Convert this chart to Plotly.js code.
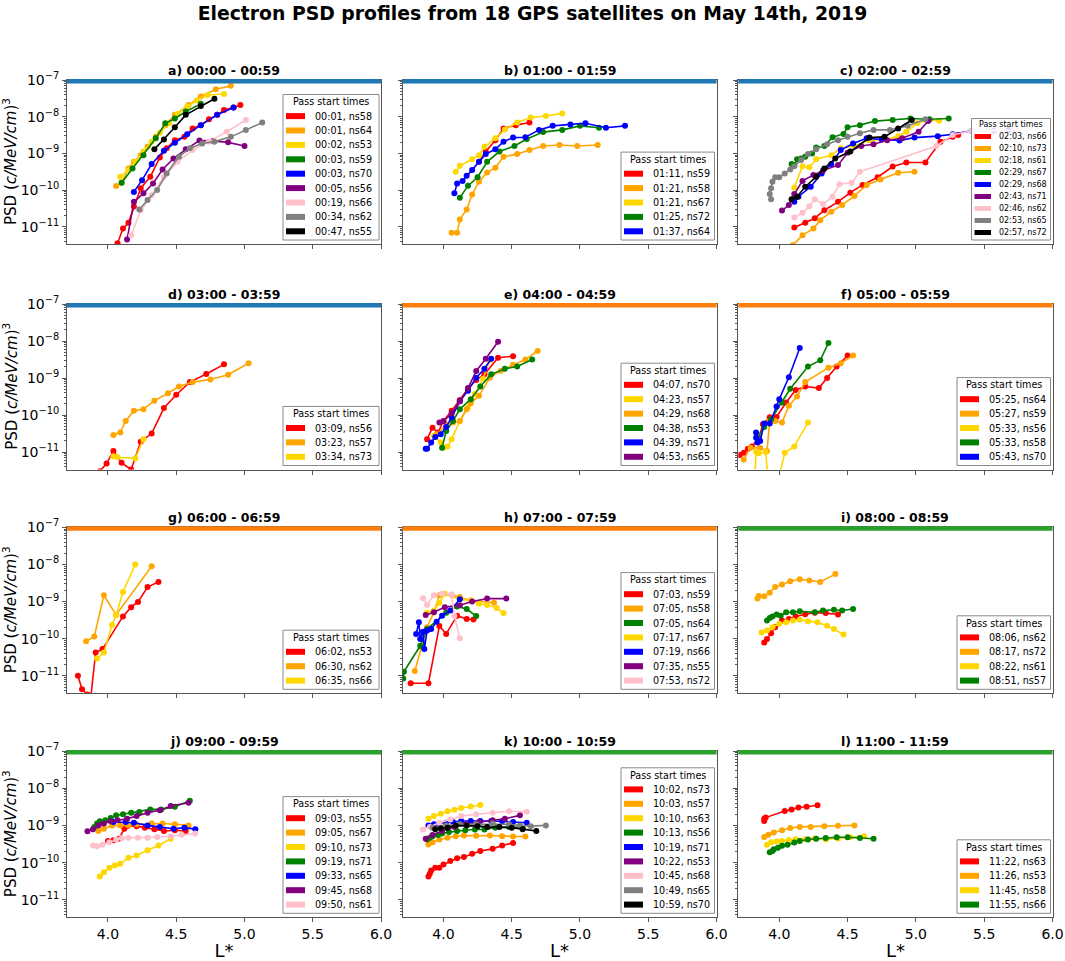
<!DOCTYPE html>
<html>
<head>
<meta charset="utf-8">
<script src="https://cdn.plot.ly/plotly-3.0.1.min.js"></script>
<style>
  html, body { margin: 0; padding: 0; background: #fff; }
  #chart { width: 1065px; height: 961px; }
</style>
</head>
<body>
<div id="chart"></div>
<script>
// Electron PSD profiles, 18 GPS satellites, 2019-05-14
// Each profile point is [L*, log10(PSD)].

const panelTitles = [
  'a) 00:00 - 00:59', 'b) 01:00 - 01:59', 'c) 02:00 - 02:59',
  'd) 03:00 - 03:59', 'e) 04:00 - 04:59', 'f) 05:00 - 05:59',
  'g) 06:00 - 06:59', 'h) 07:00 - 07:59', 'i) 08:00 - 08:59',
  'j) 09:00 - 09:59', 'k) 10:00 - 10:59', 'l) 11:00 - 11:59'
];
const bandColors = [
  '#1f77b4', '#1f77b4', '#1f77b4', '#1f77b4',
  '#ff7f0e', '#ff7f0e', '#ff7f0e', '#ff7f0e',
  '#2ca02c', '#2ca02c', '#2ca02c', '#2ca02c'
];
const lTicks = [4.0, 4.5, 5.0, 5.5, 6.0];
const psdTicks = [1e-11, 1e-10, 1e-9, 1e-8, 1e-7];
const psdTickText = ['10<sup>−11</sup>', '10<sup>−10</sup>', '10<sup>−9</sup>', '10<sup>−8</sup>', '10<sup>−7</sup>'];

// a) 00:00 - 00:59
const aNames = ['00:01, ns58', '00:01, ns64', '00:02, ns53', '00:03, ns59', '00:03, ns70', '00:05, ns56', '00:19, ns66', '00:34, ns62', '00:47, ns55'];
const aColors = ['red', 'orange', 'gold', 'green', 'blue', 'purple', 'pink', 'gray', 'black'];
const aProfiles = [
  [[4.07,-11.45],[4.11,-11.05],[4.15,-10.89],[4.19,-10.45],[4.24,-9.95],[4.31,-9.64],[4.38,-9.11],[4.43,-8.86],[4.49,-8.64],[4.56,-8.55],[4.62,-8.32],[4.68,-8.23],[4.74,-8.07],[4.8,-7.95],[4.85,-7.82],[4.92,-7.75],[4.97,-7.68]],
  [[4.06,-9.89],[4.1,-9.8],[4.15,-9.41],[4.19,-9.23],[4.24,-9.05],[4.29,-8.82],[4.35,-8.55],[4.42,-8.23],[4.49,-7.95],[4.59,-7.68],[4.68,-7.45],[4.79,-7.25],[4.9,-7.16]],
  [[4.09,-9.64],[4.15,-9.45],[4.2,-9.23],[4.26,-8.95],[4.32,-8.68],[4.38,-8.44],[4.45,-8.18],[4.51,-7.93],[4.58,-7.73],[4.65,-7.56],[4.73,-7.41],[4.85,-7.38]],
  [[4.1,-9.8],[4.18,-9.41],[4.26,-9.05],[4.35,-8.59],[4.42,-8.18],[4.49,-8.05],[4.57,-7.86],[4.68,-7.65]],
  [[4.19,-10.05],[4.25,-9.73],[4.32,-9.29],[4.41,-8.93],[4.49,-8.71],[4.58,-8.48],[4.68,-8.23],[4.8,-7.95],[4.92,-7.75]],
  [[4.14,-11.35],[4.19,-10.32],[4.26,-10.09],[4.33,-9.82],[4.4,-9.44],[4.48,-9.14],[4.57,-8.89],[4.67,-8.65],[4.77,-8.66],[4.88,-8.7],[5.0,-8.8]],
  [[4.17,-11.23],[4.24,-10.55],[4.32,-10.14],[4.41,-9.64],[4.51,-9.23],[4.62,-8.91],[4.74,-8.68],[4.87,-8.41],[5.01,-8.09]],
  [[4.23,-10.53],[4.29,-10.27],[4.36,-10.0],[4.43,-9.55],[4.52,-9.09],[4.6,-8.86],[4.69,-8.73],[4.78,-8.68],[4.9,-8.55],[5.01,-8.36],[5.13,-8.16]],
  [[4.34,-8.89],[4.41,-8.62],[4.49,-8.29],[4.57,-7.95],[4.68,-7.71],[4.78,-7.51]]
];

// b) 01:00 - 01:59
const bNames = ['01:11, ns59', '01:21, ns58', '01:21, ns67', '01:25, ns72', '01:37, ns64'];
const bColors = ['red', 'orange', 'gold', 'green', 'blue'];
const bProfiles = [
  [[4.26,-9.23],[4.31,-8.95],[4.38,-8.64],[4.44,-8.32],[4.53,-8.23],[4.63,-8.16]],
  [[4.06,-11.16],[4.1,-11.16],[4.12,-10.8],[4.17,-10.53],[4.21,-10.12],[4.26,-9.77],[4.32,-9.52],[4.38,-9.39],[4.44,-9.09],[4.54,-9.02],[4.63,-8.91],[4.73,-8.8],[4.85,-8.77],[4.98,-8.8],[5.13,-8.77]],
  [[4.09,-9.5],[4.12,-9.34],[4.21,-9.16],[4.26,-9.05],[4.3,-8.82],[4.38,-8.59],[4.45,-8.35],[4.54,-8.16],[4.64,-8.02],[4.75,-7.98],[4.87,-7.91]],
  [[4.12,-10.21],[4.18,-9.88],[4.25,-9.65],[4.32,-9.23],[4.41,-8.95],[4.52,-8.8],[4.61,-8.61],[4.73,-8.42],[4.87,-8.36],[5.0,-8.25],[5.14,-8.3]],
  [[4.08,-10.09],[4.1,-9.82],[4.14,-9.75],[4.17,-9.61],[4.21,-9.45],[4.26,-9.23],[4.31,-9.02],[4.38,-8.89],[4.44,-8.68],[4.51,-8.57],[4.6,-8.56],[4.7,-8.36],[4.8,-8.25],[4.93,-8.21],[5.04,-8.18],[5.19,-8.3],[5.33,-8.25]]
];

// c) 02:00 - 02:59
const cNames = ['02:03, ns66', '02:10, ns73', '02:18, ns61', '02:29, ns67', '02:29, ns68', '02:43, ns71', '02:46, ns62', '02:53, ns65', '02:57, ns72'];
const cColors = ['red', 'orange', 'gold', 'green', 'blue', 'purple', 'pink', 'gray', 'black'];
const cProfiles = [
  [[4.11,-11.02],[4.19,-10.89],[4.26,-10.77],[4.33,-10.55],[4.43,-10.32],[4.52,-10.07],[4.61,-9.86],[4.72,-9.65],[4.83,-9.36],[4.93,-9.25],[5.07,-9.25],[5.18,-8.68],[5.27,-8.55],[5.31,-8.5]],
  [[4.1,-11.5],[4.17,-11.23],[4.25,-11.05],[4.3,-10.82],[4.38,-10.59],[4.46,-10.41],[4.55,-10.16],[4.64,-9.86],[4.74,-9.71],[4.87,-9.53],[4.99,-9.5]],
  [[4.11,-9.93],[4.17,-9.35],[4.22,-9.38],[4.27,-9.16],[4.38,-9.05],[4.45,-8.86],[4.55,-8.8],[4.66,-8.64],[4.78,-8.62],[4.87,-8.53],[4.93,-8.41],[5.01,-8.18],[5.09,-8.09],[5.17,-8.11]],
  [[4.09,-9.29],[4.11,-9.32],[4.13,-9.16],[4.16,-9.14],[4.19,-9.09],[4.24,-9.0],[4.27,-8.84],[4.33,-8.8],[4.39,-8.56],[4.47,-8.47],[4.5,-8.29],[4.59,-8.23],[4.7,-8.12],[4.83,-8.09],[4.96,-8.05],[5.1,-8.07],[5.24,-8.05]],
  [[4.11,-10.32],[4.14,-10.18],[4.23,-9.91],[4.31,-9.55],[4.38,-9.29],[4.45,-8.91],[4.54,-8.73],[4.64,-8.59],[4.75,-8.62],[4.88,-8.65],[4.99,-8.57],[5.16,-8.53],[5.27,-8.48],[5.41,-8.38],[5.57,-8.38],[5.68,-8.36]],
  [[4.02,-10.56],[4.07,-10.41],[4.11,-10.11],[4.17,-9.75],[4.25,-9.59],[4.32,-9.47],[4.43,-9.32],[4.5,-8.98],[4.6,-8.8],[4.69,-8.75],[4.79,-8.64],[4.9,-8.59],[5.02,-8.41],[5.09,-8.12]],
  [[4.11,-10.75],[4.17,-10.62],[4.22,-10.44],[4.26,-10.25],[4.32,-10.38],[4.39,-10.18],[4.44,-9.84],[4.53,-9.8],[4.59,-9.5],[5.15,-8.8],[5.27,-8.5],[5.41,-8.38],[5.54,-8.38],[5.61,-8.36],[5.75,-8.38]],
  [[3.94,-10.25],[3.93,-10.11],[3.94,-9.95],[3.95,-9.77],[3.97,-9.65],[4.0,-9.65],[4.04,-9.55],[4.08,-9.44],[4.11,-9.35],[4.16,-9.18],[4.21,-9.02],[4.27,-8.89],[4.35,-8.75],[4.43,-8.64],[4.5,-8.55],[4.59,-8.45],[4.69,-8.36],[4.81,-8.36],[4.94,-8.25],[5.07,-8.07]],
  [[4.09,-10.25],[4.13,-10.18],[4.19,-9.91],[4.27,-9.64],[4.33,-9.41],[4.41,-9.14],[4.52,-8.95],[4.66,-8.57],[4.77,-8.55],[4.87,-8.32],[4.97,-8.09]]
];

// d) 03:00 - 03:59
const dNames = ['03:09, ns56', '03:23, ns57', '03:34, ns73'];
const dColors = ['red', 'orange', 'gold'];
const dProfiles = [
  [[3.94,-11.52],[3.99,-11.31],[4.04,-10.97],[4.1,-11.29],[4.17,-11.47],[4.24,-10.72],[4.32,-10.5],[4.41,-9.81],[4.5,-9.45],[4.6,-9.11],[4.72,-8.89],[4.85,-8.63]],
  [[4.04,-10.54],[4.09,-10.47],[4.13,-10.16],[4.19,-9.88],[4.26,-9.84],[4.34,-9.61],[4.44,-9.41],[4.52,-9.23],[4.62,-9.11],[4.75,-9.04],[4.88,-8.91],[5.03,-8.6]],
  [[4.04,-11.11],[4.07,-11.14],[4.2,-11.17],[4.26,-10.65]]
];

// e) 04:00 - 04:59
const eNames = ['04:07, ns70', '04:23, ns57', '04:29, ns68', '04:38, ns53', '04:39, ns71', '04:53, ns65'];
const eColors = ['red', 'gold', 'orange', 'green', 'blue', 'purple'];
const eProfiles = [
  [[3.88,-10.65],[3.92,-10.34],[3.96,-10.47],[4.0,-10.16],[4.06,-9.88],[4.12,-9.59],[4.18,-9.29],[4.24,-9.05],[4.3,-8.9],[4.4,-8.45],[4.51,-8.41]],
  [[3.93,-10.56],[3.98,-10.74],[4.0,-10.88],[4.03,-10.85],[4.06,-10.65],[4.12,-10.16],[4.18,-9.79],[4.23,-9.43],[4.29,-9.02],[4.34,-8.52]],
  [[3.95,-10.52],[4.02,-10.26],[4.07,-10.2],[4.12,-10.16],[4.17,-9.84],[4.2,-9.68],[4.26,-9.48],[4.34,-8.99],[4.42,-8.8],[4.51,-8.64],[4.6,-8.5],[4.69,-8.27]],
  [[3.99,-10.88],[4.02,-10.43],[4.07,-10.16],[4.12,-9.84],[4.2,-9.57],[4.27,-9.23],[4.35,-8.9],[4.45,-8.75],[4.54,-8.69],[4.65,-8.5]],
  [[3.87,-10.91],[3.88,-10.91],[3.91,-10.74],[3.94,-10.59],[3.98,-10.52],[4.02,-10.32],[4.06,-10.06],[4.12,-9.63],[4.18,-9.34],[4.24,-8.99],[4.3,-8.75],[4.35,-8.48]],
  [[3.97,-10.2],[4.0,-10.17],[4.06,-9.95],[4.12,-9.63],[4.18,-9.27],[4.24,-8.81],[4.31,-8.48],[4.4,-8.02]]
];

// f) 05:00 - 05:59
const fNames = ['05:25, ns64', '05:27, ns59', '05:33, ns56', '05:33, ns58', '05:43, ns70'];
const fColors = ['red', 'orange', 'gold', 'green', 'blue'];
const fProfiles = [
  [[3.71,-11.08],[3.74,-11.02],[3.77,-10.91],[3.8,-10.85],[3.85,-10.61],[3.88,-10.25],[3.93,-10.06],[3.98,-10.05],[4.05,-9.66],[4.12,-9.32],[4.19,-9.23],[4.29,-9.27],[4.35,-9.0],[4.42,-8.69],[4.5,-8.39]],
  [[3.74,-11.2],[3.79,-10.88],[3.86,-10.88],[3.91,-10.97],[3.93,-10.16],[3.97,-10.16],[4.02,-10.2],[4.07,-9.75],[4.13,-9.5],[4.19,-9.11],[4.36,-8.72],[4.45,-8.6],[4.54,-8.39]],
  [[3.82,-11.8],[3.83,-10.99],[3.85,-11.03],[3.9,-11.0],[3.92,-11.8],[3.99,-11.8],[4.04,-11.02],[4.11,-10.85],[4.21,-10.2]],
  [[3.84,-10.61],[3.89,-10.32],[3.94,-10.11],[4.02,-9.66],[4.08,-9.29],[4.21,-8.69],[4.3,-8.52],[4.36,-8.05]],
  [[3.83,-10.47],[3.83,-10.61],[3.84,-10.74],[3.86,-10.7],[3.89,-10.23],[3.93,-10.23],[3.98,-9.77],[4.0,-9.57],[4.07,-8.98],[4.15,-8.19]]
];

// g) 06:00 - 06:59
const gNames = ['06:02, ns53', '06:30, ns62', '06:35, ns66'];
const gColors = ['red', 'orange', 'gold'];
const gProfiles = [
  [[3.78,-11.0],[3.81,-11.36],[3.85,-11.5],[3.87,-11.72],[3.91,-10.37],[3.96,-10.28],[4.11,-9.4],[4.17,-9.15],[4.22,-9.01],[4.29,-8.61],[4.37,-8.47]],
  [[3.84,-10.07],[3.9,-9.94],[3.97,-8.83],[4.06,-9.36],[4.32,-8.05]],
  [[3.92,-10.53],[3.97,-10.37],[4.03,-9.63],[4.06,-9.36],[4.11,-8.74],[4.2,-8.0]]
];

// h) 07:00 - 07:59
const hNames = ['07:03, ns59', '07:05, ns58', '07:05, ns64', '07:17, ns67', '07:19, ns66', '07:35, ns55', '07:53, ns72'];
const hColors = ['red', 'orange', 'green', 'gold', 'blue', 'purple', 'pink'];
const hProfiles = [
  [[3.76,-11.2],[3.89,-11.2],[3.97,-9.66],[4.02,-9.87],[4.1,-9.38],[4.17,-9.47],[4.22,-9.48]],
  [[3.79,-10.87],[3.84,-10.23],[3.88,-9.69],[3.93,-9.29],[3.97,-8.83],[4.06,-8.82],[4.12,-8.88],[4.2,-8.97],[4.37,-9.03]],
  [[3.705,-11.07],[3.71,-10.89],[3.83,-10.19],[3.88,-9.74],[4.02,-9.3],[4.1,-9.13],[4.17,-9.2],[4.24,-9.39]],
  [[3.88,-9.3],[3.93,-9.24],[3.97,-9.03],[4.01,-8.79],[4.12,-8.94],[4.2,-8.97],[4.26,-9.06],[4.32,-9.09],[4.39,-9.17],[4.44,-9.31]],
  [[3.8,-9.87],[3.82,-9.56],[3.83,-10.01],[3.85,-9.81],[3.86,-10.28],[3.88,-9.78],[3.91,-9.74],[3.95,-9.54],[3.99,-9.38],[4.05,-9.24],[4.12,-8.94]],
  [[3.87,-9.36],[3.93,-9.29],[4.01,-9.15],[4.12,-9.1],[4.21,-9.0],[4.32,-8.92],[4.46,-8.92]],
  [[3.85,-8.91],[3.88,-9.09],[3.93,-8.83],[3.99,-8.79],[4.06,-8.81],[4.08,-9.38],[4.12,-9.99]]
];

// i) 08:00 - 08:59
const iNames = ['08:06, ns62', '08:17, ns72', '08:22, ns61', '08:51, ns57'];
const iColors = ['red', 'orange', 'gold', 'green'];
const iProfiles = [
  [[3.89,-10.1],[3.91,-10.01],[3.94,-9.85],[3.97,-9.69],[4.02,-9.51],[4.07,-9.47],[4.12,-9.4],[4.19,-9.34],[4.26,-9.3],[4.34,-9.31],[4.43,-9.35]],
  [[3.84,-8.92],[3.85,-8.85],[3.89,-8.86],[3.93,-8.76],[3.97,-8.61],[4.02,-8.54],[4.08,-8.45],[4.15,-8.4],[4.22,-8.43],[4.3,-8.47],[4.41,-8.26]],
  [[3.87,-9.83],[3.91,-9.78],[3.95,-9.69],[4.0,-9.6],[4.05,-9.56],[4.1,-9.51],[4.15,-9.49],[4.21,-9.53],[4.28,-9.56],[4.35,-9.65],[4.4,-9.74],[4.47,-9.89]],
  [[3.91,-9.51],[3.93,-9.44],[3.95,-9.4],[3.98,-9.35],[4.01,-9.38],[4.05,-9.29],[4.1,-9.29],[4.15,-9.26],[4.26,-9.29],[4.32,-9.24],[4.4,-9.22],[4.46,-9.24],[4.54,-9.2]]
];

// j) 09:00 - 09:59
const jNames = ['09:03, ns55', '09:05, ns67', '09:10, ns73', '09:19, ns71', '09:33, ns65', '09:45, ns68', '09:50, ns61'];
const jColors = ['red', 'orange', 'gold', 'green', 'blue', 'purple', 'pink'];
const jProfiles = [
  [[4.0,-9.42],[4.04,-9.4],[4.08,-9.36],[4.12,-9.09],[4.14,-9.02],[4.21,-9.02],[4.27,-9.06],[4.34,-9.1],[4.41,-9.15],[4.49,-9.13],[4.57,-9.15]],
  [[3.93,-9.15],[3.97,-9.09],[4.03,-9.0],[4.09,-9.0],[4.15,-9.0],[4.21,-8.97],[4.32,-8.95],[4.4,-8.95],[4.49,-8.97],[4.59,-9.0]],
  [[3.94,-10.37],[3.97,-10.26],[4.01,-10.14],[4.05,-10.08],[4.09,-10.03],[4.15,-9.87],[4.21,-9.81],[4.29,-9.67],[4.37,-9.54],[4.46,-9.36]],
  [[3.9,-9.04],[3.92,-8.95],[3.94,-8.89],[3.98,-8.86],[4.02,-8.8],[4.06,-8.73],[4.11,-8.7],[4.17,-8.66],[4.23,-8.64],[4.31,-8.57],[4.39,-8.57],[4.49,-8.5],[4.6,-8.34]],
  [[4.04,-8.91],[4.13,-8.91],[4.19,-8.93],[4.29,-9.0],[4.38,-9.04],[4.48,-9.09],[4.56,-9.06],[4.64,-9.1]],
  [[3.85,-9.16],[3.89,-9.1],[3.93,-9.0],[3.97,-8.95],[4.02,-8.89],[4.07,-8.86],[4.14,-8.82],[4.21,-8.75],[4.29,-8.66],[4.38,-8.59],[4.46,-8.48],[4.59,-8.39]],
  [[3.89,-9.54],[3.92,-9.56],[3.96,-9.52],[4.01,-9.45],[4.06,-9.38],[4.1,-9.34],[4.15,-9.33],[4.22,-9.33],[4.29,-9.33],[4.36,-9.31],[4.46,-9.29],[4.54,-9.25],[4.64,-9.22]]
];

// k) 10:00 - 10:59
const kNames = ['10:02, ns73', '10:03, ns57', '10:10, ns63', '10:13, ns56', '10:19, ns71', '10:22, ns53', '10:45, ns68', '10:49, ns65', '10:59, ns70'];
const kColors = ['red', 'orange', 'gold', 'green', 'blue', 'purple', 'pink', 'gray', 'black'];
const kProfiles = [
  [[3.89,-10.37],[3.9,-10.3],[3.91,-10.21],[3.94,-10.14],[3.97,-10.14],[4.0,-10.05],[4.05,-9.96],[4.1,-9.88],[4.15,-9.85],[4.21,-9.76],[4.27,-9.69],[4.36,-9.63],[4.43,-9.54],[4.51,-9.47]],
  [[3.89,-9.51],[3.92,-9.45],[3.97,-9.38],[4.03,-9.33],[4.09,-9.29],[4.15,-9.27],[4.24,-9.28],[4.34,-9.27],[4.43,-9.29],[4.51,-9.3],[4.6,-9.3]],
  [[3.89,-8.82],[3.93,-8.75],[3.98,-8.69],[4.03,-8.62],[4.08,-8.58],[4.13,-8.53],[4.2,-8.49],[4.27,-8.45]],
  [[3.88,-9.38],[3.9,-9.33],[3.92,-9.29],[3.96,-9.26],[3.99,-9.22],[4.04,-9.18],[4.1,-9.15],[4.16,-9.13],[4.23,-9.11],[4.3,-9.11],[4.38,-9.06],[4.48,-9.04],[4.58,-9.06]],
  [[3.89,-9.0],[3.93,-8.97],[3.97,-8.95],[4.02,-8.93],[4.07,-8.91],[4.13,-8.88],[4.2,-8.88],[4.27,-8.88],[4.35,-8.88],[4.43,-8.89],[4.51,-8.91],[4.61,-8.93]],
  [[3.87,-9.36],[3.92,-9.26],[3.99,-9.15],[4.08,-9.04],[4.16,-8.97],[4.26,-8.91],[4.36,-8.86],[4.45,-8.82],[4.56,-8.73]],
  [[3.85,-9.11],[3.9,-9.04],[3.97,-8.93],[4.05,-8.84],[4.13,-8.75],[4.24,-8.7],[4.36,-8.66],[4.48,-8.62],[4.61,-8.63]],
  [[3.92,-9.06],[4.02,-9.0],[4.12,-8.97],[4.24,-8.97],[4.36,-8.95],[4.48,-8.97],[4.56,-9.0],[4.64,-9.02],[4.75,-9.0]],
  [[3.94,-9.1],[3.98,-9.08],[4.03,-9.06],[4.09,-9.0],[4.17,-9.0],[4.25,-9.02],[4.32,-9.04],[4.41,-9.04],[4.5,-9.06],[4.58,-9.1],[4.68,-9.15]]
];

// l) 11:00 - 11:59
const lNames = ['11:22, ns63', '11:26, ns53', '11:45, ns58', '11:55, ns66'];
const lColors = ['red', 'orange', 'gold', 'green'];
const lProfiles = [
  [[3.89,-8.88],[3.89,-8.82],[3.9,-8.79],[4.04,-8.61],[4.09,-8.57],[4.14,-8.52],[4.2,-8.5],[4.28,-8.46]],
  [[3.89,-9.31],[3.92,-9.25],[3.96,-9.19],[4.02,-9.13],[4.08,-9.07],[4.15,-9.04],[4.23,-9.04],[4.33,-9.02],[4.43,-9.01],[4.55,-9.0]],
  [[3.91,-9.52],[3.94,-9.45],[3.98,-9.43],[4.02,-9.42],[4.07,-9.39],[4.12,-9.37],[4.19,-9.37],[4.26,-9.35],[4.34,-9.38],[4.43,-9.35],[4.52,-9.32],[4.62,-9.29]],
  [[3.93,-9.72],[3.95,-9.69],[3.96,-9.64],[3.99,-9.6],[4.02,-9.55],[4.06,-9.52],[4.11,-9.46],[4.15,-9.42],[4.21,-9.38],[4.27,-9.36],[4.34,-9.34],[4.42,-9.32],[4.5,-9.32],[4.59,-9.34],[4.69,-9.36]]
];

const panels = [
  { names: aNames, colors: aColors, profiles: aProfiles },
  { names: bNames, colors: bColors, profiles: bProfiles },
  { names: cNames, colors: cColors, profiles: cProfiles, small: true },
  { names: dNames, colors: dColors, profiles: dProfiles },
  { names: eNames, colors: eColors, profiles: eProfiles },
  { names: fNames, colors: fColors, profiles: fProfiles },
  { names: gNames, colors: gColors, profiles: gProfiles },
  { names: hNames, colors: hColors, profiles: hProfiles },
  { names: iNames, colors: iColors, profiles: iProfiles },
  { names: jNames, colors: jColors, profiles: jProfiles },
  { names: kNames, colors: kColors, profiles: kProfiles },
  { names: lNames, colors: lColors, profiles: lProfiles }
];

// ============================================================
// layout geometry (pixels in the 1065x961 figure)
// ============================================================
const FIG_W = 1065, FIG_H = 961;
const FONT = 'DejaVu Sans, Liberation Sans, sans-serif';
const colPx = [[67, 381], [402.5, 716.5], [738.3, 1052.5]];
const rowPx = [[80, 244], [304, 469.5], [527.3, 693.3], [751, 917.3]];
const SPINE = '#555';

const legendNormal = { pitch: 14.4, font: 9.6, patchW: 19, patchH: 6, textX: 30 };
const legendSmall = { pitch: 12, font: 8, patchW: 16.5, patchH: 5, textX: 25.5 };

const traces = [];
const shapes = [];
const annotations = [];
const layout = {
  width: FIG_W, height: FIG_H, autosize: false,
  margin: { t: 0, r: 0, b: 0, l: 0 },
  paper_bgcolor: '#fff', plot_bgcolor: '#fff',
  font: { family: FONT, size: 12, color: '#000' },
  showlegend: false,
  title: {
    text: 'Electron PSD profiles from 18 GPS satellites on May 14th, 2019',
    font: { family: FONT, size: 18.8, color: '#000', weight: 'bold' },
    x: 0.5, xanchor: 'center', xref: 'paper',
    y: 1 - 13 / FIG_H, yanchor: 'middle', yref: 'container'
  }
};

panels.forEach((p, i) => {
  const row = Math.floor(i / 3), col = i % 3;
  const sfx = i === 0 ? '' : String(i + 1);
  const xId = 'x' + sfx, yId = 'y' + sfx;
  const [px0, px1] = colPx[col];
  const [py0, py1] = rowPx[row];
  const W = px1 - px0, H = py1 - py0;

  const xAxis = {
    domain: [px0 / FIG_W, px1 / FIG_W], anchor: yId,
    range: [3.7, 6.0], showgrid: false, zeroline: false,
    showline: true, mirror: true, linecolor: SPINE, linewidth: 1,
    ticks: 'outside', ticklen: 4, tickcolor: SPINE,
    tickvals: lTicks, ticktext: lTicks.map(v => v.toFixed(1)),
    showticklabels: row === 3,
    tickfont: { family: FONT, size: 14 }
  };
  if (row === 3) xAxis.title = { text: 'L*', font: { family: FONT, size: 18 }, standoff: 2 };
  layout['xaxis' + sfx] = xAxis;

  layout['yaxis' + sfx] = {
    domain: [1 - py1 / FIG_H, 1 - py0 / FIG_H], anchor: xId,
    type: 'log', range: [-11.47, -7], showgrid: false, zeroline: false,
    showline: true, mirror: true, linecolor: SPINE, linewidth: 1,
    ticks: 'outside', ticklen: 4, tickcolor: SPINE,
    tickvals: psdTicks, ticktext: psdTickText,
    showticklabels: col === 0,
    tickfont: { family: FONT, size: 14 },
    minor: { ticks: 'outside', ticklen: 2, tickcolor: SPINE, dtick: 'D1', showgrid: false }
  };

  p.profiles.forEach((pts, k) => {
    traces.push({
      type: 'scatter', mode: 'lines+markers',
      x: pts.map(d => d[0]),
      y: pts.map(d => Math.pow(10, d[1])),
      xaxis: xId, yaxis: yId,
      name: p.names[k],
      line: { color: p.colors[k], width: 1.6 },
      marker: { color: p.colors[k], size: 6 },
      showlegend: false, hoverinfo: 'x+y+name'
    });
  });

  // colored band along the top spine
  shapes.push({
    type: 'rect', xref: xId + ' domain', yref: yId + ' domain',
    x0: 0, x1: 1, y0: 1 - 3.5 / H, y1: 1 + 1 / H,
    fillcolor: bandColors[i], line: { width: 0 }
  });

  // panel title
  annotations.push({
    text: panelTitles[i], showarrow: false,
    xref: xId + ' domain', yref: yId + ' domain', x: 0.5, y: 1,
    xanchor: 'center', yanchor: 'bottom',
    font: { family: FONT, size: 12.5, color: '#000', weight: 'bold' }
  });

  // legend box, drawn by hand so rows stay matplotlib-tight
  const st = p.small ? legendSmall : legendNormal;
  const n = p.names.length;
  const lw = p.small ? 79 : (col === 0 ? 96 : 93.5);
  const lh = st.pitch * (n + 1) + 1.5;
  const right = W - 2, bottom = 4;
  const left = right - lw, top = bottom + lh;
  shapes.push({
    type: 'rect', xref: xId + ' domain', yref: yId + ' domain',
    x0: left / W, x1: right / W, y0: bottom / H, y1: top / H,
    fillcolor: 'rgba(255,255,255,0.85)', line: { color: '#8a8a8a', width: 1 }
  });
  annotations.push({
    text: 'Pass start times', showarrow: false,
    xref: xId + ' domain', yref: yId + ' domain',
    x: (left + lw / 2) / W, y: (top - st.pitch * 0.5) / H,
    xanchor: 'center', yanchor: 'middle',
    font: { family: FONT, size: st.font, color: '#000' }
  });
  p.names.forEach((nm, k) => {
    const cy = top - st.pitch * 0.5 - st.pitch * (k + 1);
    shapes.push({
      type: 'rect', xref: xId + ' domain', yref: yId + ' domain',
      x0: (left + 3) / W, x1: (left + 3 + st.patchW) / W,
      y0: (cy - st.patchH / 2) / H, y1: (cy + st.patchH / 2) / H,
      fillcolor: p.colors[k], line: { width: 0 }
    });
    annotations.push({
      text: nm, showarrow: false,
      xref: xId + ' domain', yref: yId + ' domain',
      x: (left + st.textX) / W, y: cy / H,
      xanchor: 'left', yanchor: 'middle',
      font: { family: FONT, size: st.font, color: '#000' }
    });
  });
});

// y-axis titles on the left column
rowPx.forEach(([py0, py1]) => {
  annotations.push({
    text: 'PSD (<i>c/MeV/cm</i>)<sup>3</sup>', showarrow: false,
    xref: 'paper', yref: 'paper',
    x: 10 / FIG_W, y: 1 - (py0 + py1) / 2 / FIG_H,
    xanchor: 'center', yanchor: 'middle', textangle: -90,
    font: { family: FONT, size: 15, color: '#000' }
  });
});

layout.shapes = shapes;
layout.annotations = annotations;

Plotly.newPlot('chart', traces, layout, { displayModeBar: false, staticPlot: true });
</script>
</body>
</html>
